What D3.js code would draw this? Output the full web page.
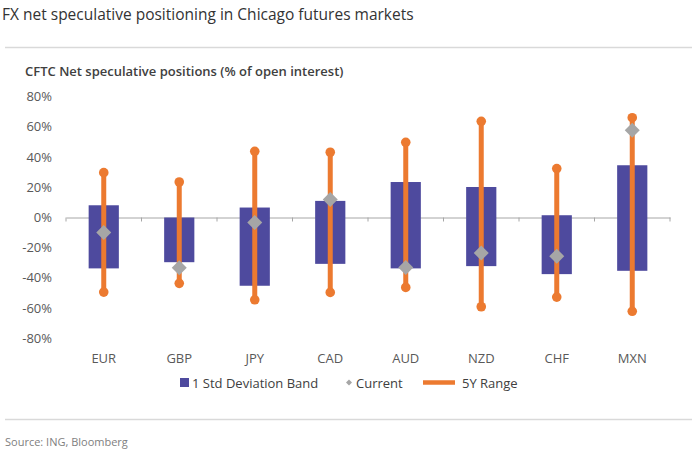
<!DOCTYPE html>
<html><head><meta charset="utf-8">
<script src="https://cdn.jsdelivr.net/npm/d3@7"></script>
<style>body{margin:0;background:#fff}svg{display:block}text{font-family:"Open Sans",sans-serif}</style>
</head><body><svg id="c" width="700" height="450"></svg>
<script>
const categories = ["EUR","GBP","JPY","CAD","AUD","NZD","CHF","MXN"];
const bandHigh = [8.1, 0, 6.6, 11, 23.5, 20.2, 1.5, 34.6];
const bandLow = [-33.7, -29.6, -45.2, -30.7, -33.7, -32.2, -37.5, -35.3];
const current = [-9.9, -33.3, -3.3, 11.9, -33.1, -23.5, -25.6, 57.7];
const rangeHigh = [29.7, 23.5, 43.8, 43.2, 49.8, 63.7, 32.4, 66.1];
const rangeLow = [-49.4, -43.6, -54.5, -49.6, -46.3, -59.1, -52.7, -62.1];
const yTicks = [80, 60, 40, 20, 0, -20, -40, -60, -80];

const svg = d3.select("#c");
const x = d3.scaleBand().domain(categories).range([66, 670]).paddingInner(0).paddingOuter(0);
const y = d3.scaleLinear().domain([-80, 80]).range([338.3, 96.7]);
const cx = c => x(c) + x.bandwidth() / 2;

// title
svg.append("text").attr("x", 2).attr("y", 20).attr("font-size", 15.5).attr("fill", "#333").text("FX net speculative positioning in Chicago futures markets");
svg.append("line").attr("x1", 5).attr("x2", 692).attr("y1", 47.5).attr("y2", 47.5).attr("stroke", "#d9d9d9").attr("stroke-width", 1.5);
svg.append("text").attr("x", 25).attr("y", 76).attr("font-size", 13).attr("font-weight", 600).attr("fill", "#404040").text("CFTC Net speculative positions (% of open interest)");

// y labels
svg.append("g").selectAll("text").data(yTicks).join("text")
  .attr("x", 52).attr("y", d => y(d)).attr("dy", "0.35em").attr("text-anchor", "end")
  .attr("font-size", 13).attr("fill", "#595959").text(d => d + "%");

// zero axis with ticks
const ax = svg.append("g").attr("transform", `translate(0,${y(0)})`)
  .call(d3.axisBottom(x).tickSize(0).tickFormat(""));
ax.select(".domain").attr("stroke", "#a6a6a6");
ax.selectAll(".sep").data(categories.concat(["_end"])).join("line").attr("class","sep")
  .attr("x1", (d,i) => 66 + i * x.bandwidth()).attr("x2", (d,i) => 66 + i * x.bandwidth())
  .attr("y1", 0).attr("y2", 4).attr("stroke", "#a6a6a6");

// category labels
svg.append("g").selectAll("text").data(categories).join("text")
  .attr("x", d => cx(d)).attr("y", 363).attr("text-anchor", "middle")
  .attr("font-size", 13).attr("fill", "#595959").text(d => d);

const bw = x.bandwidth() * 0.4;
// bars
svg.append("g").selectAll("rect").data(categories).join("rect")
  .attr("x", d => cx(d) - bw / 2).attr("width", bw)
  .attr("y", (d,i) => y(bandHigh[i])).attr("height", (d,i) => y(bandLow[i]) - y(bandHigh[i]))
  .attr("fill", "#4e4a9e");

// range lines
const rg = svg.append("g");
rg.selectAll("line").data(categories).join("line")
  .attr("x1", d => cx(d)).attr("x2", d => cx(d))
  .attr("y1", (d,i) => y(rangeHigh[i])).attr("y2", (d,i) => y(rangeLow[i]))
  .attr("stroke", "#ec7a30").attr("stroke-width", 5);
rg.selectAll("circle.h").data(categories).join("circle").attr("class","h")
  .attr("cx", d => cx(d)).attr("cy", (d,i) => y(rangeHigh[i])).attr("r", 4.8).attr("fill", "#ec7a30");
rg.selectAll("circle.l").data(categories).join("circle").attr("class","l")
  .attr("cx", d => cx(d)).attr("cy", (d,i) => y(rangeLow[i])).attr("r", 4.8).attr("fill", "#ec7a30");

// current diamonds
const dsz = 7.5;
svg.append("g").selectAll("path").data(categories).join("path")
  .attr("transform", (d,i) => `translate(${cx(d)},${y(current[i])})`)
  .attr("d", `M0,${-dsz}L${dsz},0L0,${dsz}L${-dsz},0Z`).attr("fill", "#a6a6a6");

// legend
const lg = svg.append("g");
lg.append("rect").attr("x", 180).attr("y", 378).attr("width", 9).attr("height", 9).attr("fill", "#4e4a9e");
lg.append("text").attr("x", 192).attr("y", 387.5).attr("font-size", 13).attr("fill", "#404040").text("1 Std Deviation Band");
lg.append("path").attr("transform", "translate(349,382.5)").attr("d", "M0,-3L3,0L0,3L-3,0Z").attr("fill", "#a6a6a6");
lg.append("text").attr("x", 356).attr("y", 387.5).attr("font-size", 13).attr("fill", "#404040").text("Current");
lg.append("line").attr("x1", 423).attr("x2", 455).attr("y1", 382.5).attr("y2", 382.5).attr("stroke", "#ec7a30").attr("stroke-width", 4.5);
lg.append("text").attr("x", 462).attr("y", 387.5).attr("font-size", 13).attr("fill", "#404040").text("5Y Range");

svg.append("line").attr("x1", 5).attr("x2", 692).attr("y1", 419.5).attr("y2", 419.5).attr("stroke", "#d9d9d9").attr("stroke-width", 1.5);
svg.append("text").attr("x", 5).attr("y", 446).attr("font-size", 11).attr("fill", "#808080").text("Source: ING, Bloomberg");
</script></body></html>
